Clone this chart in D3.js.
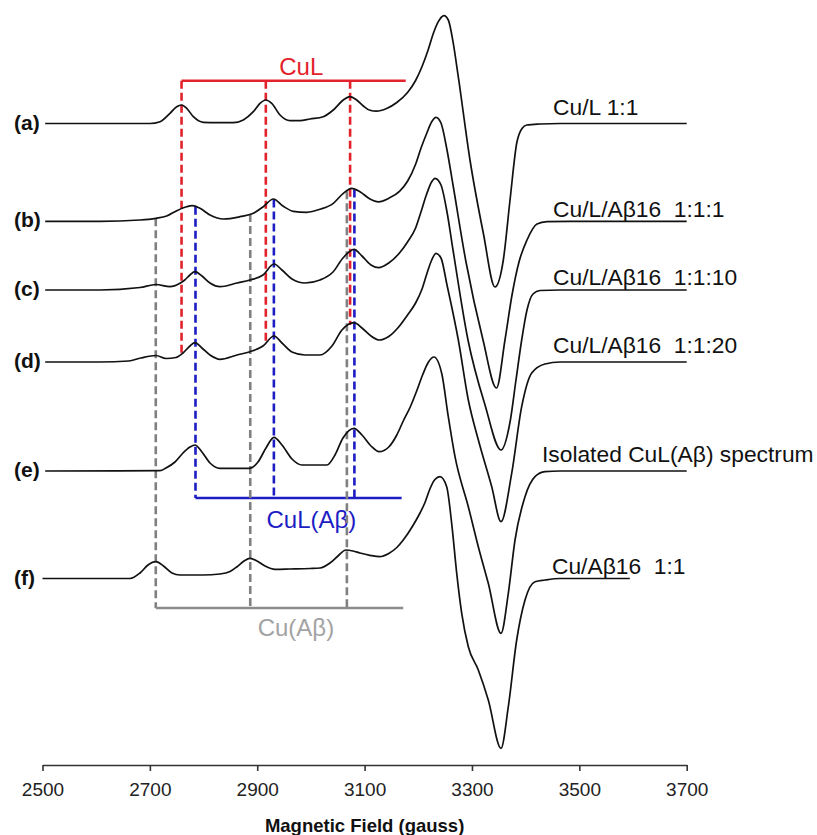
<!DOCTYPE html>
<html>
<head>
<meta charset="utf-8">
<script src="https://cdn.jsdelivr.net/npm/d3@7"></script>
<style>
  html, body { margin: 0; padding: 0; background: #fff; }
  svg { display: block; font-family: "Liberation Sans", Arial, Helvetica, sans-serif; }
</style>
</head>
<body>
<svg id="chart" width="817" height="835"></svg>
<script>
// ---- Data: EPR spectra, field in gauss, signal in arbitrary units above each trace's own baseline ----
const fieldTicks = [2500, 2700, 2900, 3100, 3300, 3500, 3700];
const traceLetters = ["(a)", "(b)", "(c)", "(d)", "(e)", "(f)"];
const sampleNames = ["Cu/L 1:1", "Cu/L/A\u03b216  1:1:1", "Cu/L/A\u03b216  1:1:10",
                     "Cu/L/A\u03b216  1:1:20", "Isolated CuL(A\u03b2) spectrum", "Cu/A\u03b216  1:1"];
// vertical stacking offset of each spectrum (same arbitrary units)
const traceOffsets = [641.5, 543.7, 475, 403, 294, 186.5];

const specA = [[2505,0],[2607,0],[2700,0],[2719,1.8],[2737.5,10.2],[2750,16.8],[2759,18.5],[2768.6,15.2],[2781,6.8],[2799.5,1.2],[2824.5,0.8],[2855.4,0.8],[2874,3.5],[2892.7,11.8],[2905.2,20.2],[2915.8,23.5],[2927,20.2],[2942.4,8.5],[2961,2.8],[2979.7,2.8],[2998.3,4.5],[3023,6.8],[3041.7,13.5],[3060.3,23.5],[3072.8,26.8],[3085.2,23.5],[3097.6,17.5],[3110,13.2],[3122,12.3],[3141,15],[3160,21],[3180,31],[3195,43],[3207,57],[3218,73],[3228,90],[3237.3,101.8],[3247.9,107.8],[3255.9,103.5],[3265.2,80.2],[3274.5,46.8],[3296.3,-36.5],[3321.1,-109.5],[3342.9,-163.5],[3358.4,-136.5],[3370.9,-76.5],[3383.4,-19.5],[3393.2,-5],[3402,-1.5],[3426.7,-0.5],[3464,0],[3700,0]];

const specB = [[2505,0],[2607,0],[2681.6,1.3],[2711.4,3],[2731.3,5.3],[2750,10.6],[2768.6,14.6],[2779,15.6],[2793.4,13],[2812,6.3],[2836.8,2.3],[2867.9,4.6],[2892.7,8],[2911.3,14.6],[2930,22.3],[2948.6,15],[2967.2,10],[2992.1,9],[3016.9,12],[3041.7,18],[3060.3,28],[3076,33],[3091.4,29.6],[3110,22.3],[3126,19.5],[3145,23],[3165,30],[3180,40],[3195,57],[3205,73],[3215,87],[3225,99.6],[3233,104],[3242.3,98.3],[3253.5,71.3],[3264.7,36.3],[3288.9,-40.7],[3320.6,-118.7],[3345.7,-166.7],[3361.5,-118.7],[3374.6,-73.7],[3387.6,-40.7],[3402.5,-18.7],[3421.1,-2.7],[3439.8,-0.4],[3482.6,0],[3700,0]];

const specC = [[2505,0],[2607,0],[2681.6,2.5],[2711.4,5.5],[2737.5,3.3],[2756,6.7],[2765,10],[2774.7,15],[2784,18.3],[2797,14],[2812,7],[2830.6,3.3],[2862.3,7],[2886.5,10],[2910.7,15],[2931.2,26],[2946.1,20],[2964.7,11],[2989,7],[3016.9,10],[3041.1,18],[3059.7,32],[3080.3,40.7],[3095.1,34],[3111.9,25],[3126,22.3],[3145,27],[3165,37],[3180,48],[3195,62],[3205,78],[3215,95],[3225,108.3],[3231.1,111.7],[3242.3,105],[3253.5,78],[3264.7,40],[3292.6,-50],[3324.3,-115],[3354.1,-160],[3370.9,-132],[3382,-90],[3392.6,-50],[3402.5,-20],[3413.7,-4],[3426.7,-0.5],[3464,0],[3700,0]];

const specD = [[2505,0],[2607,0],[2660.6,1],[2683,4],[2711.4,6.5],[2730,3.5],[2748.7,4.5],[2761.7,9],[2774.7,16],[2784,19.3],[2797,14],[2812,7],[2830.6,2.7],[2862.3,7],[2886.5,10.3],[2910.7,16],[2931.2,26],[2946.1,19],[2964.7,10],[2989,7],[3016.9,7],[3039.2,16],[3057.8,32],[3080.3,39.3],[3095.1,34],[3111.9,26],[3127,22],[3145,25.5],[3165,36],[3180,47],[3195,59],[3207,73],[3217,90],[3225,102],[3233,108.7],[3242.3,104],[3253.5,77],[3274.6,22],[3293.2,-38],[3311.9,-78],[3336.8,-124.7],[3354.1,-159.7],[3374,-111.3],[3392.6,-44.7],[3411.3,-11],[3436,-2],[3464,0],[3700,0]];

const specE = [[2505,0],[2718.9,0.3],[2730,3],[2746.8,9],[2761.7,18],[2774.7,24],[2784,26],[2797,19],[2812,8],[2830.6,2.7],[2886.5,2.7],[2901.4,9],[2916.3,23],[2931.2,33.7],[2946.1,26],[2964.7,12],[2983.4,6],[3029.9,6],[3044.8,16],[3059.7,33],[3080.3,42.7],[3095.1,36],[3111.9,25],[3127,19.3],[3145,24],[3160,36],[3172,50],[3185,64],[3197,80],[3208,96],[3219,109],[3229.2,114],[3243.6,97.7],[3255.9,54.3],[3268.4,14.3],[3293.2,-35.7],[3311.8,-75.7],[3330.4,-112.3],[3354.1,-162.3],[3367.7,-122.3],[3380.2,-69],[3398.8,-25.7],[3417.4,-5.7],[3436,-0.7],[3464,0],[3700,0]];

const specF = [[2500,0],[2663,0],[2681.6,5.5],[2696.5,13.5],[2711.4,16.8],[2725.4,12.5],[2741.2,5.5],[2756.1,3.5],[2799,3.5],[2830.6,4.5],[2849.3,7],[2862.3,11.8],[2875.4,17.5],[2886.5,20.2],[2899.6,17.5],[2914.5,12.5],[2933.1,9.2],[2961,9.5],[2998.3,10],[3016.9,10.5],[3035.5,15.5],[3050.4,22.5],[3065.3,28.5],[3078.4,27.5],[3091.4,25.5],[3110,23.2],[3128,21.8],[3145,25],[3160,31],[3172,38.5],[3190.7,53.5],[3203.2,65.5],[3212.5,76],[3222,90],[3231,99],[3240.4,101.8],[3252.9,91.8],[3262.2,55.2],[3271.6,5.2],[3280.9,-34.8],[3293.2,-68.2],[3311.8,-91.5],[3330.4,-121.5],[3354.1,-169.8],[3367.7,-128.2],[3383.3,-61.5],[3398.8,-21.5],[3417.4,-3.2],[3436,-1.5],[3464,0],[3594,0]];

const spectra = [specA, specB, specC, specD, specE, specF];

// hyperfine (parallel) line positions of each species, gauss
const cuLLines = [2759, 2916, 3073];
const cuLAbLines = [2785, 2931, 3081];
const cuAbLines = [2711, 2887, 3067];
// end of each bracket bar on the high-field side, gauss
const cuLBarEnd = 3176.6;
const cuLAbBarEnd = 3169;
const cuAbBarEnd = 3172;

// ---- Layout ----
const W = 817, H = 835;
const x = d3.scaleLinear().domain([2500, 3700]).range([42.5, 686.7]);
const y = d3.scaleLinear().domain([0, 765]).range([765, 0]);

const svg = d3.select("#chart");
svg.append("rect").attr("width", W).attr("height", H).attr("fill", "#fff");

const line = d3.line()
  .x(d => x(d[0]))
  .y(d => y(d[1]))
  .curve(d3.curveMonotoneX);

// value of a spectrum (with its offset) at a given field, linear between samples
function levelAt(i, field) {
  const s = spectra[i];
  const k = d3.bisector(d => d[0]).left(s, field);
  if (k <= 0) return s[0][1] + traceOffsets[i];
  if (k >= s.length) return s[s.length - 1][1] + traceOffsets[i];
  const a = s[k - 1], b = s[k];
  const t = (field - a[0]) / (b[0] - a[0]);
  return a[1] + t * (b[1] - a[1]) + traceOffsets[i];
}

// bracket annotations: bar level and label placement in plot units
const brackets = [
  { name: "CuL", lines: cuLLines, end: cuLBarEnd, bar: 684.3, color: "#e3232c", dashColor: "#e3232c",
    textColor: "#e3232c", labelField: 2982, labelLevel: 690,
    span: f => [684.3, levelAt(3, f)] },
  { name: "CuL(A\u03b2)", lines: cuLAbLines, end: cuLAbBarEnd, bar: 267, color: "#1d1dc4", dashColor: "#1d1dc4",
    textColor: "#1d1dc4", labelField: 3001, labelLevel: 237,
    span: f => [levelAt(1, f), 267] },
  { name: "Cu(A\u03b2)", lines: cuAbLines, end: cuAbBarEnd, bar: 157, color: "#8c8c8c", dashColor: "#808080",
    textColor: "#a3a3a3", labelField: 2972, labelLevel: 129,
    span: f => [levelAt(1, f), 157] }
];

const ann = svg.append("g").attr("class", "annotations");
brackets.forEach(b => {
  const g = ann.append("g");
  g.selectAll("line.guide")
    .data(b.lines)
    .join("line")
    .attr("class", "guide")
    .attr("x1", d => x(d)).attr("x2", d => x(d))
    .attr("y1", d => y(b.span(d)[0]))
    .attr("y2", d => y(b.span(d)[1]))
    .attr("stroke", b.dashColor)
    .attr("stroke-width", 2.6)
    .attr("stroke-dasharray", "8,4");
  g.append("line")
    .attr("x1", x(b.lines[0])).attr("x2", x(b.end))
    .attr("y1", y(b.bar)).attr("y2", y(b.bar))
    .attr("stroke", b.color)
    .attr("stroke-width", 2.4);
  g.append("text")
    .attr("x", x(b.labelField))
    .attr("y", y(b.labelLevel))
    .attr("text-anchor", "middle")
    .attr("font-size", "24px")
    .attr("fill", b.textColor)
    .text(b.name);
});

// spectra
const traces = svg.append("g").attr("class", "spectra");
spectra.forEach((s, i) => {
  traces.append("path")
    .datum(s.map(d => [d[0], d[1] + traceOffsets[i]]))
    .attr("d", line)
    .attr("fill", "none")
    .attr("stroke", "#111")
    .attr("stroke-width", 1.7)
    .attr("stroke-linejoin", "round");
});

// trace letters on the left
const letterX = 14;
svg.append("g").selectAll("text")
  .data(traceLetters)
  .join("text")
  .attr("x", letterX)
  .attr("y", (d, i) => y(traceOffsets[i]) + 6)
  .attr("font-size", "21px")
  .attr("font-weight", "bold")
  .attr("fill", "#111")
  .text(d => d);

// sample names on the right, sitting just above each flat tail
const nameFields = [3451, 3451, 3451, 3451, 3430.4, 3449];
const nameGaps = [8.5, 4.8, 5, 9, 9, 5];
svg.append("g").selectAll("text")
  .data(sampleNames)
  .join("text")
  .attr("x", (d, i) => x(nameFields[i]))
  .attr("y", (d, i) => y(traceOffsets[i]) - nameGaps[i])
  .attr("font-size", "22.8px")
  .attr("fill", "#111")
  .style("white-space", "pre")
  .text(d => d);

// field axis
const axisG = svg.append("g")
  .attr("transform", `translate(0,${y(0)})`)
  .call(d3.axisBottom(x)
    .tickValues(fieldTicks)
    .tickSize(6)
    .tickSizeOuter(0)
    .tickPadding(12)
    .tickFormat(d3.format("d")));
axisG.select(".domain").attr("stroke", "#333").attr("stroke-width", 1.6);
axisG.selectAll(".tick line").attr("stroke", "#333").attr("stroke-width", 1.6);
axisG.selectAll(".tick text")
  .attr("font-family", "'Liberation Sans', Arial, sans-serif")
  .attr("font-size", "19px")
  .attr("fill", "#222");

svg.append("text")
  .attr("x", (x.range()[0] + x.range()[1]) / 2)
  .attr("y", 832)
  .attr("text-anchor", "middle")
  .attr("font-size", "18.5px")
  .attr("font-weight", "bold")
  .attr("fill", "#111")
  .text("Magnetic Field (gauss)");
</script>
</body>
</html>
